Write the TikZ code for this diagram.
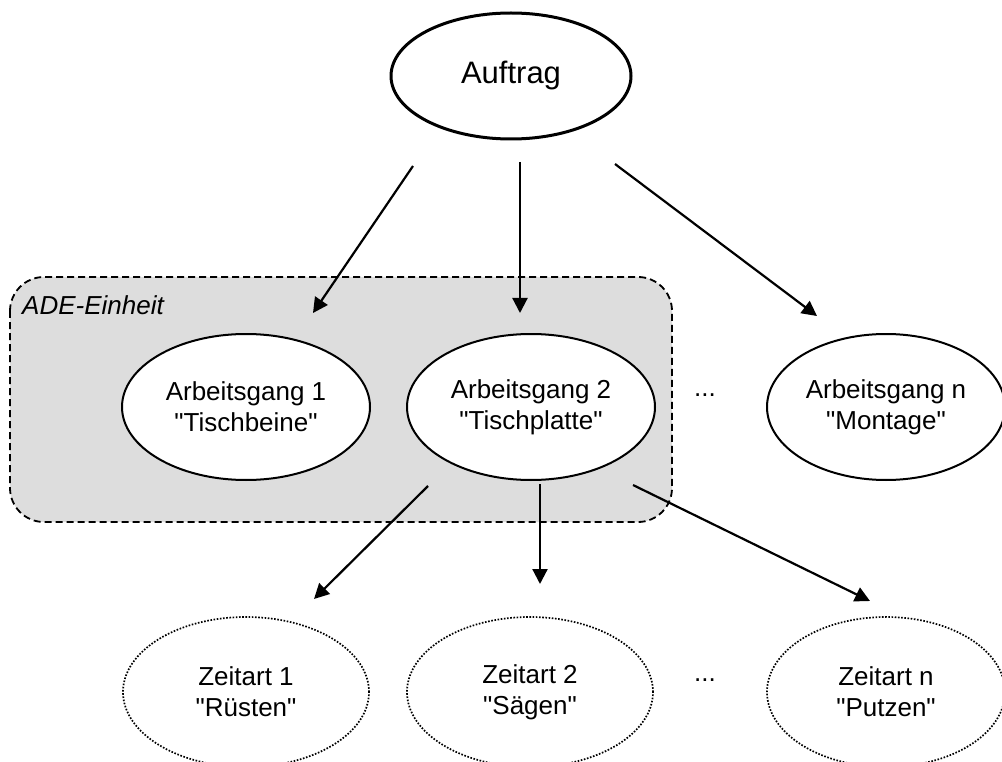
\documentclass[tikz,border=0pt]{standalone}
\usepackage{fontspec}
\setmainfont{Liberation Sans}
\usetikzlibrary{arrows.meta,shapes.geometric}
\newcommand{\anf}[1]{\textquotedbl#1\textquotedbl}

\begin{document}
\begin{tikzpicture}[x=1pt,y=-1pt]
\tikzstyle{every node}+=[inner sep=0pt]
\tikzstyle{ag}=[ellipse, draw=black, line width=2pt, fill=white, align=center, minimum width=248pt, minimum height=146pt, font=\fontsize{26}{31}\selectfont]
\tikzstyle{za}=[ellipse, draw=black, line width=1.7pt, dash pattern=on 1.6pt off 1.6pt, align=center, minimum width=246pt, minimum height=150pt, font=\fontsize{26}{31}\selectfont]
\tikzstyle{pfeil}=[-{Triangle[length=15pt,width=15pt]}, line width=2.2pt]
\useasboundingbox (0,0) rectangle (1002,762);
\clip (0,0) rectangle (1002,762);
% ADE-Einheit
\draw [black, line width=1.8pt, dash pattern=on 7pt off 4pt, fill={rgb,255:red,221;green,221;blue,221}, rounded corners=34pt] (10,277) rectangle (672,522);
\node [anchor=base west, font=\fontsize{26}{31}\selectfont\itshape] (ade) at (22,315) {ADE-Einheit};
% Auftrag
\node [ellipse, draw=black, line width=3pt, fill=white, minimum width=240pt, minimum height=126pt, font=\fontsize{31}{36}\selectfont] (auftrag) at (511,76) {Auftrag};
% Arbeitsgaenge
\node [ag] (ag1) at (246,407) {Arbeitsgang 1\\\anf{Tischbeine}};
\node [ag] (ag2) at (531,407) {Arbeitsgang 2\\\anf{Tischplatte}};
\node [ag, minimum width=238pt] (agn) at (886,407) {Arbeitsgang n\\\anf{Montage}};
\node [font=\fontsize{26}{31}\selectfont] (dots1) at (705,395) {...};
% Zeitarten
\node [za] (za1) at (246,692) {Zeitart 1\\\anf{Rüsten}};
\node [za] (za2) at (530,692) {Zeitart 2\\\anf{Sägen}};
\node [za, minimum width=238pt] (zan) at (886,692) {Zeitart n\\\anf{Putzen}};
\node [font=\fontsize{26}{31}\selectfont] (dots2) at (705,680) {...};
% Pfeile
\coordinate (a1) at (413,166);
\coordinate (a2) at (520,162);
\coordinate (a3) at (615,164);
\coordinate (e1) at (313,313);
\coordinate (e2) at (520,313);
\coordinate (e3) at (817,316);
\coordinate (b1) at (428,486);
\coordinate (b2) at (540,484);
\coordinate (b3) at (633,485);
\coordinate (f1) at (314,599);
\coordinate (f2) at (540,584);
\coordinate (f3) at (870,601);
\draw [pfeil] (a1) -- (e1);
\draw [pfeil] (a2) -- (e2);
\draw [pfeil] (a3) -- (e3);
\draw [pfeil] (b1) -- (f1);
\draw [pfeil] (b2) -- (f2);
\draw [pfeil] (b3) -- (f3);
\end{tikzpicture}
\end{document}
